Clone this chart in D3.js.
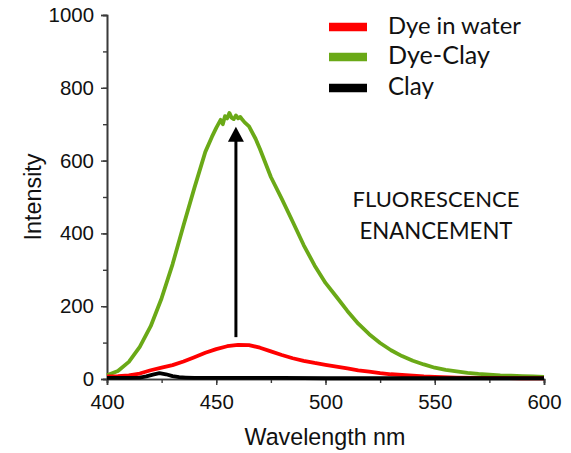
<!DOCTYPE html>
<html><head><meta charset="utf-8">
<script src="https://cdn.jsdelivr.net/npm/d3@7"></script>
<style>body{margin:0;background:#fff}svg{display:block}</style>
</head><body>
<svg id="c" width="571" height="453"></svg>
<script>
// ---- data ----
const greenWl = [400,405,410,415,420,425,430,435,440,445,448,450,452,453,454,455,456,457,458,459,460,461,462,463,465,468,470,475,480,485,490,495,500,505,510,515,520,525,530,535,540,545,550,555,560,565,570,575,580,585,590,595,600];
const greenVal = [10,22,47,88,145,222,315,422,525,624,665,690,712,700,722,716,731,718,714,724,716,720,712,705,694,660,632,555,495,432,368,312,264,226,187,152,123,99,79,63,50,40,31,25,21,17,14,12,10,9,8,7,6];
const redWl = [400,405,410,415,420,425,430,435,440,445,450,455,460,465,470,475,480,485,490,495,500,505,510,515,520,525,530,535,540,545,550,560,570,580,590,600];
const redVal = [7,8,10,15,24,31,38,48,60,72,82,90,94,93,86,76,66,57,50,44,39,34,29,24,20,16,13,11,9,7,6,4,3,3,2,2];
const clayWl = [400,405,410,415,418,421,424,427,430,433,436,440,450,480,500,550,600];
const clayVal = [3,3,3,4,7,12,16,13,8,5,4,3,3,3,2,2,2];
const xTicks = [400,450,500,550,600];
const yTicks = [0,200,400,600,800,1000];
const legendLabels = ["Dye in water","Dye-Clay","Clay"];
const colors = ["#ff0000","#6aa917","#000000"];
const arrowData = {wl:459, from:115, to:693};

const svg = d3.select("#c");
const x = d3.scaleLinear().domain([400,600]).range([107,544]);
const y = d3.scaleLinear().domain([0,1000]).range([379,15]);
const axisColor = "#3a3a3a";
const tickFont = "Arial, 'Liberation Sans', sans-serif";
const textFont = "Lato, 'Open Sans', sans-serif";

function fitText(sel, w){
  const l = sel.node().getComputedTextLength();
  const fs = +sel.attr("font-size");
  sel.attr("font-size", fs*w/l);
}

// tick font size fitted so that "1000" is ~46px wide
const probe = svg.append("text").attr("font-family",tickFont).attr("font-size",20).text("1000");
fitText(probe,45.5);
const tickFs = +probe.attr("font-size");
probe.remove();

// axes with minor ticks
const gx = svg.append("g").attr("transform","translate(0,379)");
gx.call(d3.axisBottom(x).tickValues(d3.range(400,601,25)).tickSize(4).tickFormat(""));
gx.append("g").call(d3.axisBottom(x).tickValues(xTicks).tickSize(6).tickPadding(9).tickFormat(d3.format("d")));
const gy = svg.append("g").attr("transform","translate(107,0)");
gy.call(d3.axisLeft(y).tickValues(d3.range(0,1001,100)).tickSize(4).tickFormat(""));
gy.append("g").call(d3.axisLeft(y).tickValues(yTicks).tickSize(6).tickPadding(7).tickFormat(d3.format("d")));
svg.selectAll(".domain").attr("stroke",axisColor).attr("stroke-width",1.6);
svg.selectAll(".tick line").attr("stroke",axisColor).attr("stroke-width",1.4);
svg.selectAll("g").attr("font-family",tickFont);
svg.selectAll(".tick text").attr("font-family",tickFont).attr("font-size",tickFs).attr("fill","#111");

// axis titles
const xt = svg.append("text").attr("x",325).attr("y",445).attr("text-anchor","middle")
  .attr("font-family",tickFont).attr("font-size",20).attr("fill","#111").text("Wavelength nm");
fitText(xt,161);
const yt = svg.append("text").attr("transform","translate(41,197) rotate(-90)").attr("text-anchor","middle")
  .attr("font-family",tickFont).attr("font-size",20).attr("fill","#111").text("Intensity");
fitText(yt,87);

// curves
const line = d3.line().x(d=>x(d[0])).y(d=>y(d[1]));
const series = [
  d3.zip(redWl, redVal),
  d3.zip(greenWl, greenVal),
  d3.zip(clayWl, clayVal)
];
[1,0,2].forEach(i=>{
  svg.append("path").datum(series[i]).attr("d",line).attr("fill","none")
    .attr("stroke",colors[i]).attr("stroke-width",3.8).attr("stroke-linejoin","round");
});

// arrow
const ax = x(arrowData.wl);
svg.append("line").attr("x1",ax).attr("x2",ax).attr("y1",y(arrowData.from)).attr("y2",y(arrowData.to)+14)
  .attr("stroke","#000").attr("stroke-width",3);
svg.append("path").attr("d",`M${ax},${y(arrowData.to)} L${ax-8},${y(arrowData.to)+15} L${ax+8},${y(arrowData.to)+15} Z`).attr("fill","#000");

// legend
const legYs = [27,57,88];
const legW = [133,102,46];
legendLabels.forEach((lab,i)=>{
  svg.append("line").attr("x1",329).attr("x2",367).attr("y1",legYs[i]).attr("y2",legYs[i])
    .attr("stroke",colors[i]).attr("stroke-width",8.5);
  const t = svg.append("text").attr("x",388).attr("y",legYs[i]+7).attr("font-family",textFont)
    .attr("font-size",22).attr("fill","#111").text(lab);
  fitText(t, legW[i]);
});
const t1 = svg.append("text").attr("x",436).attr("y",206.5).attr("text-anchor","middle")
  .attr("font-family",textFont).attr("font-size",22).attr("fill","#111").text("FLUORESCENCE");
fitText(t1,167);
const t2 = svg.append("text").attr("x",436).attr("y",238.5).attr("text-anchor","middle")
  .attr("font-family",textFont).attr("font-size",22).attr("fill","#111").text("ENANCEMENT");
fitText(t2,153);
</script>
</body></html>
